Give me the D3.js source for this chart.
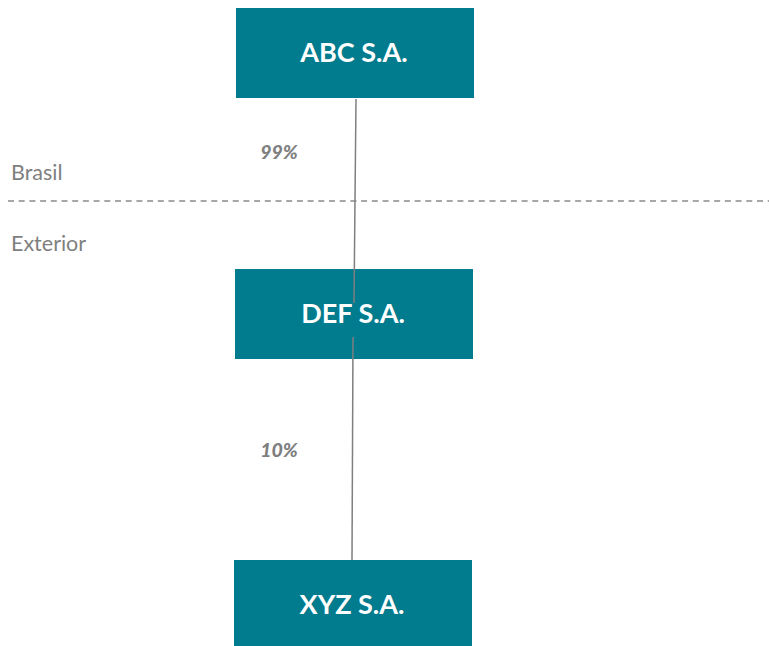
<!DOCTYPE html>
<html>
<head>
<meta charset="utf-8">
<script src="https://cdn.jsdelivr.net/npm/d3@7"></script>
<style>
  html, body { margin: 0; padding: 0; background: #fff; overflow: hidden; }
  text { font-family: Lato, "Open Sans", sans-serif; }
</style>
</head>
<body>
<div id="chart"></div>
<script>
// DATA
const entities = ["ABC S.A.", "DEF S.A.", "XYZ S.A."]
const owners = ["ABC S.A.", "DEF S.A."]
const owned = ["DEF S.A.", "XYZ S.A."]
const stakes = [99, 10]
const regions = ["Brasil", "Exterior"]

// DIMENSIONS
const dimensions = { width: 769, height: 646 }
const boxWidth = 238
const boxHeight = 90

const wrapper = d3.select("#chart")
    .append("svg")
    .attr("width", dimensions.width)
    .attr("height", dimensions.height)

// SCALES (layout of the org levels)
const yScale = d3.scaleOrdinal()
    .domain(entities)
    .range([8, 269, 560])
const xScale = d3.scaleOrdinal()
    .domain(entities)
    .range([236, 235, 234])
// where each link leaves its parent (x) and where it ends in the child
const linkTopX = d3.scaleOrdinal().domain(owners).range([356, 353])
const linkBottomX = d3.scaleOrdinal().domain(owned).range([354, 352])
const regionY = d3.scaleOrdinal()
    .domain(regions)
    .range([180, 251])

const teal = "#017b8e"
const grey = "#7f7f7f"

// separator between regions
wrapper.append("line")
    .attr("x1", 8)
    .attr("x2", dimensions.width)
    .attr("y1", 201)
    .attr("y2", 201)
    .attr("stroke", "#8a8a8a")
    .attr("stroke-width", 1.4)
    .attr("stroke-dasharray", "6,4.7")

wrapper.selectAll(".region")
    .data(regions)
  .enter().append("text")
    .attr("class", "region")
    .attr("x", 11)
    .attr("y", d => regionY(d))
    .attr("fill", grey)
    .style("font-size", "21.5px")
    .text(d => d)

// boxes
const boxes = wrapper.selectAll(".box")
    .data(entities)
  .enter().append("g")
    .attr("class", "box")

boxes.append("rect")
    .attr("x", d => xScale(d))
    .attr("y", d => yScale(d))
    .attr("width", boxWidth)
    .attr("height", boxHeight)
    .attr("fill", teal)

boxes.append("text")
    .attr("x", d => xScale(d) + boxWidth / 2 - 1)
    .attr("y", d => yScale(d) + 54)
    .attr("text-anchor", "middle")
    .attr("fill", "#fff")
    .style("font-size", "27px")
    .style("font-weight", "bold")
    .text(d => d)

// ownership links (drawn over the child box, stopping short of its label)
const links = stakes.map((s, i) => ({ from: owners[i], to: owned[i], stake: s }))

wrapper.selectAll(".link")
    .data(links)
  .enter().append("line")
    .attr("class", "link")
    .attr("x1", d => linkTopX(d.from))
    .attr("y1", d => yScale(d.from) + (d.from === entities[0] ? boxHeight + 1 : 68))
    .attr("x2", d => linkBottomX(d.to))
    .attr("y2", d => d.to === entities[1] ? yScale(d.to) + 34 : yScale(d.to))
    .attr("stroke", grey)
    .attr("stroke-width", 1.5)

wrapper.selectAll(".stake")
    .data(links)
  .enter().append("text")
    .attr("class", "stake")
    .attr("x", 279)
    .attr("y", d => yScale(d.to) - 110 + (d.to === entities[2] ? 7 : 0))
    .attr("text-anchor", "middle")
    .attr("fill", grey)
    .style("font-size", "19.5px")
    .style("font-weight", "900")
    .style("font-style", "italic")
    .text(d => d.stake + "%")
</script>
</body>
</html>
